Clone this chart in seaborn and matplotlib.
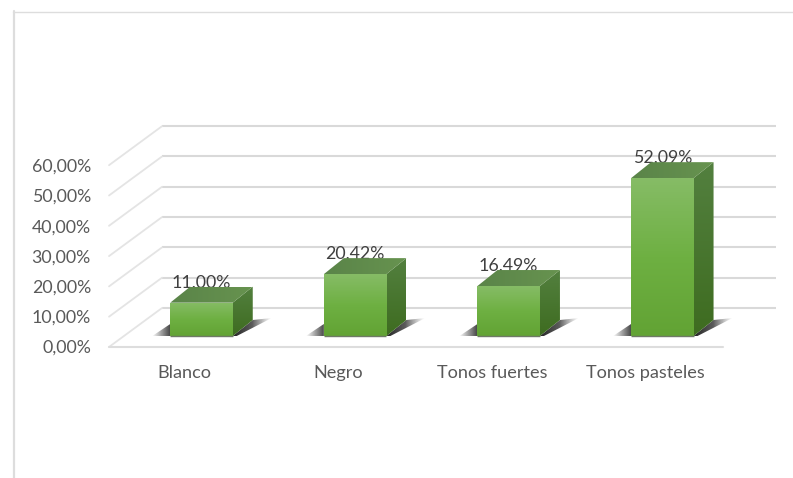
import numpy as np
import pandas as pd
import matplotlib
matplotlib.use("Agg")
import matplotlib.pyplot as plt
from matplotlib.colors import LinearSegmentedColormap
from matplotlib.lines import Line2D
from matplotlib.patches import Polygon
import seaborn as sns

categories = ["Blanco", "Negro", "Tonos fuertes", "Tonos pasteles"]
values = [11.00, 20.42, 16.49, 52.09]
value_labels = ["11,00%", "20,42%", "16,49%", "52,09%"]
y_ticks = [0, 10, 20, 30, 40, 50, 60]
y_tick_labels = ["0,00%", "10,00%", "20,00%", "30,00%", "40,00%", "50,00%", "60,00%"]

W, H = 793, 478
FONT = "Lato"
TXT = "#595959"
GRID = "#D9D9D9"

sns.set_theme(style="white")
plt.rcParams["font.family"] = [FONT, "DejaVu Sans"]
fig = plt.figure(figsize=(W / 100, H / 100), dpi=100, facecolor="white")

# pixel geometry of the pseudo-3D box
CAT_PX = 153.6          # px per category
PCT_PX = 3.03           # px per percent
CAT0_X = 201.5          # centre of first bar, front face
BASE_Y = 336.0          # bar base
BACK_Y = 308.0          # back wall zero
FRONT_Y = 347.0         # floor front edge

ax = fig.add_axes([0, 0, 1, 1], facecolor="none", zorder=2)
df = pd.DataFrame({"categoria": categories, "valor": values})
sns.barplot(data=df, x="categoria", y="valor", width=62.5 / CAT_PX, color="#6CAF40",
            ax=ax, zorder=5, saturation=1, errorbar=None, linewidth=0)
xlim = (-CAT0_X / CAT_PX, (W - CAT0_X) / CAT_PX)
ylim = ((BASE_Y - H) / PCT_PX, BASE_Y / PCT_PX)
ax.set_axis_off()


def X(p):
    return (p - CAT0_X) / CAT_PX


def Y(p):
    return (BASE_Y - p) / PCT_PX


def DX(p):
    return p / CAT_PX


def DY(p):
    return p / PCT_PX


def grad_fill(verts, colors, direction, z):
    cmap = LinearSegmentedColormap.from_list("c", colors)
    v = np.array(verts)
    g = np.linspace(0, 1, 128)
    arr = g[:, None] if direction == "v" else g[None, :]
    im = ax.imshow(arr, cmap=cmap, aspect="auto", origin="upper", zorder=z,
                   extent=[v[:, 0].min(), v[:, 0].max(), v[:, 1].min(), v[:, 1].max()],
                   interpolation="bilinear")
    clip = Polygon(verts, closed=True, transform=ax.transData, facecolor="none", edgecolor="none")
    ax.add_patch(clip)
    im.set_clip_path(clip)
    return im


# back wall gridlines and side-wall diagonals
wall_x0, wall_x1 = X(162), X(776)
side_x = X(109)
for t in y_ticks:
    yb = Y(BACK_Y) + t
    yf = Y(BACK_Y + 39) + t
    ax.plot([wall_x0, wall_x1], [yb, yb], color=GRID, lw=1.5, zorder=1, solid_capstyle="butt")
    ax.plot([side_x, wall_x0], [yf, yb], color="#E4E4E4", lw=1.3, zorder=1)
ax.plot([side_x, X(723)], [Y(FRONT_Y)] * 2, color="#DDDDDD", lw=1.5, zorder=1)

depth_x, depth_y = DX(20), DY(16)
for bar, lab in zip(ax.patches[:len(values)], value_labels):
    x0 = bar.get_x()
    x1 = x0 + bar.get_width()
    top = bar.get_height()
    cx = (x0 + x1) / 2
    # floor shadows
    g = np.linspace(0, 1, 64)[None, :]
    left = [(x0 - DX(18), 0), (x0, DY(12)), (x0, 0)]
    cm_l = LinearSegmentedColormap.from_list("sl", [(0.25, 0.25, 0.25, 0), (0.25, 0.25, 0.25, 0.95)])
    im = ax.imshow(g, cmap=cm_l, aspect="auto", zorder=2,
                   extent=[x0 - DX(18), x0, 0, DY(12)], interpolation="bilinear")
    clip = Polygon(left, closed=True, transform=ax.transData, fc="none", ec="none")
    ax.add_patch(clip)
    im.set_clip_path(clip)
    right = [(x1, 0), (x1 + depth_x, depth_y), (x1 + DX(39), DY(18)), (x1 + DX(4), 0)]
    cm_r = LinearSegmentedColormap.from_list(
        "sr", [(0.15, 0.15, 0.15, 1), (0.2, 0.2, 0.2, 0.8), (0.4, 0.4, 0.4, 0)])
    im = ax.imshow(g, cmap=cm_r, aspect="auto", zorder=2,
                   extent=[x1, x1 + DX(39), 0, DY(18)], interpolation="bilinear")
    clip = Polygon(right, closed=True, transform=ax.transData, fc="none", ec="none")
    ax.add_patch(clip)
    im.set_clip_path(clip)

    # value label sits behind the bar's top face
    ax.text(cx, top + DY(20.5), lab, ha="center", va="center", color="#404040",
            fontsize=12.8, zorder=3)

    # side face
    grad_fill([(x1, 0), (x1 + depth_x, depth_y), (x1 + depth_x, top + depth_y), (x1, top)],
              ["#53803F", "#3E6C20"], "v", 4)
    # top face
    grad_fill([(x0, top), (x1, top), (x1 + depth_x, top + depth_y), (x0 + depth_x, top + depth_y)],
              ["#5A8449", "#67934F"], "h", 4)
    # front face gradient over the seaborn bar
    im = ax.imshow(np.linspace(0, 1, 128)[:, None], aspect="auto", zorder=6,
                   cmap=LinearSegmentedColormap.from_list(
                       "f", ["#86BC66", "#6EB042", "#62A334"]),
                   extent=[x0, x1, 0, top], interpolation="bilinear")
    im.set_clip_path(bar)
    ax.plot([x0, x1], [0, 0], color="#6F7A66", lw=1.0, zorder=7, solid_capstyle="butt")

ax.set_xlim(*xlim)
ax.set_ylim(*ylim)

# front plane axes: carries the real tick labels
FRONT_L = 109
FRONT_R = 723
TOP60 = 165.5
ZERO = 346.0
LABEL_CAT0 = 184.5
LABEL_STEP = 153.7
axf = fig.add_axes([FRONT_L / W, 1 - ZERO / H, (FRONT_R - FRONT_L) / W, (ZERO - TOP60) / H],
                   facecolor="none", zorder=3)
axf.set_ylim(0, 60)
axf.set_xlim((FRONT_L - LABEL_CAT0) / LABEL_STEP, (FRONT_R - LABEL_CAT0) / LABEL_STEP)
axf.set_yticks(y_ticks)
axf.set_yticklabels(y_tick_labels, fontsize=12.8, color=TXT)
axf.set_xticks(range(len(categories)))
axf.set_xticklabels(categories, fontsize=13.1, color=TXT)
axf.tick_params(axis="y", length=0, pad=13)
axf.tick_params(axis="x", length=0, pad=13.5)
axf.grid(False)
sns.despine(ax=axf, left=True, bottom=True)

# chart area frame
fig.add_artist(Line2D([13.5 / W, 13.5 / W], [0, 1 - 11 / H], color="#DDDDDD", lw=1.6))
fig.add_artist(Line2D([13 / W, 1], [1 - 11.5 / H, 1 - 11.5 / H], color="#DDDDDD", lw=1.0))

fig.savefig("out.png", dpi=100, facecolor="white")
